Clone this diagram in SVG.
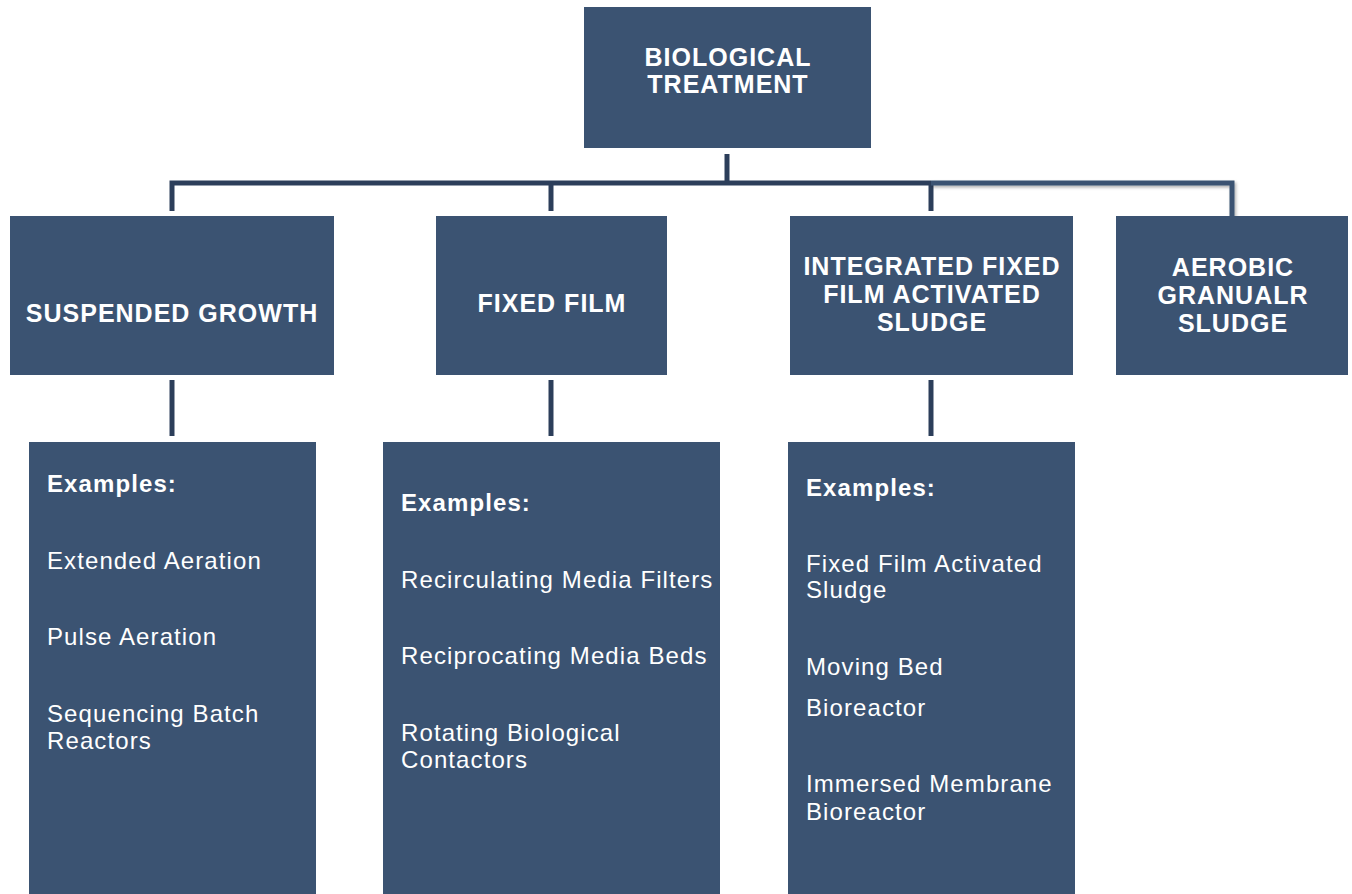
<svg xmlns="http://www.w3.org/2000/svg" width="1352" height="894" viewBox="0 0 1352 894">
<defs>
<style>
.box{fill:#3b5372;}
.hd{font-family:"Liberation Sans",Arial,sans-serif;font-weight:bold;font-size:25px;fill:#ffffff;text-anchor:middle;letter-spacing:1px;}
.ex{font-family:"Liberation Sans",Arial,sans-serif;font-weight:bold;font-size:24px;fill:#ffffff;letter-spacing:1.1px;}
.it{font-family:"Liberation Sans",Arial,sans-serif;font-size:24px;fill:#ffffff;letter-spacing:1.1px;}
.cn{fill:none;stroke:#2c3e5a;stroke-width:5;}
.cn2{fill:none;stroke:#3b5372;stroke-width:5;}
</style>
<filter id="sh" x="-5%" y="-20%" width="110%" height="140%">
<feDropShadow dx="1.5" dy="2" stdDeviation="1.5" flood-color="#000" flood-opacity="0.3"/>
</filter>
</defs>
<rect width="1352" height="894" fill="#ffffff"/>
<g id="connectors">
<path class="cn" d="M727 154 V183"/>
<path class="cn" d="M172 211 V183 H931"/>
<path class="cn" d="M551 183 V211"/>
<path class="cn" d="M931 183 V211"/>
<path class="cn2" filter="url(#sh)" d="M931 183 H1232 V245"/>
<path class="cn" d="M172 380 V436"/>
<path class="cn" d="M551 380 V436"/>
<path class="cn" d="M931 380 V436"/>
</g>
<g id="root">
<rect class="box" x="584" y="7" width="287" height="141"/>
<text class="hd" x="728" y="66">BIOLOGICAL</text>
<text class="hd" x="728" y="93">TREATMENT</text>
</g>
<g id="suspended">
<rect class="box" x="10" y="216" width="324" height="159"/>
<text class="hd" x="172" y="322">SUSPENDED GROWTH</text>
</g>
<g id="fixedfilm">
<rect class="box" x="436" y="216" width="231" height="159"/>
<text class="hd" x="552" y="312">FIXED FILM</text>
</g>
<g id="ifas">
<rect class="box" x="790" y="216" width="283" height="159"/>
<text class="hd" x="932" y="275">INTEGRATED FIXED</text>
<text class="hd" x="932" y="303">FILM ACTIVATED</text>
<text class="hd" x="932" y="331">SLUDGE</text>
</g>
<g id="aerobic">
<rect class="box" x="1116" y="216" width="232" height="159"/>
<text class="hd" x="1233" y="276">AEROBIC</text>
<text class="hd" x="1233" y="304">GRANUALR</text>
<text class="hd" x="1233" y="332">SLUDGE</text>
</g>
<g id="ex-suspended">
<rect class="box" x="29" y="442" width="287" height="452"/>
<text class="ex" x="47" y="492">Examples:</text>
<text class="it" x="47" y="569">Extended Aeration</text>
<text class="it" x="47" y="645">Pulse Aeration</text>
<text class="it" x="47" y="722">Sequencing Batch</text>
<text class="it" x="47" y="749">Reactors</text>
</g>
<g id="ex-fixedfilm">
<rect class="box" x="383" y="442" width="337" height="452"/>
<text class="ex" x="401" y="511">Examples:</text>
<text class="it" x="401" y="588">Recirculating Media Filters</text>
<text class="it" x="401" y="664">Reciprocating Media Beds</text>
<text class="it" x="401" y="741">Rotating Biological</text>
<text class="it" x="401" y="768">Contactors</text>
</g>
<g id="ex-ifas">
<rect class="box" x="788" y="442" width="287" height="452"/>
<text class="ex" x="806" y="496">Examples:</text>
<text class="it" x="806" y="572">Fixed Film Activated</text>
<text class="it" x="806" y="598">Sludge</text>
<text class="it" x="806" y="675">Moving Bed</text>
<text class="it" x="806" y="716">Bioreactor</text>
<text class="it" x="806" y="792">Immersed Membrane</text>
<text class="it" x="806" y="820">Bioreactor</text>
</g>
</svg>
